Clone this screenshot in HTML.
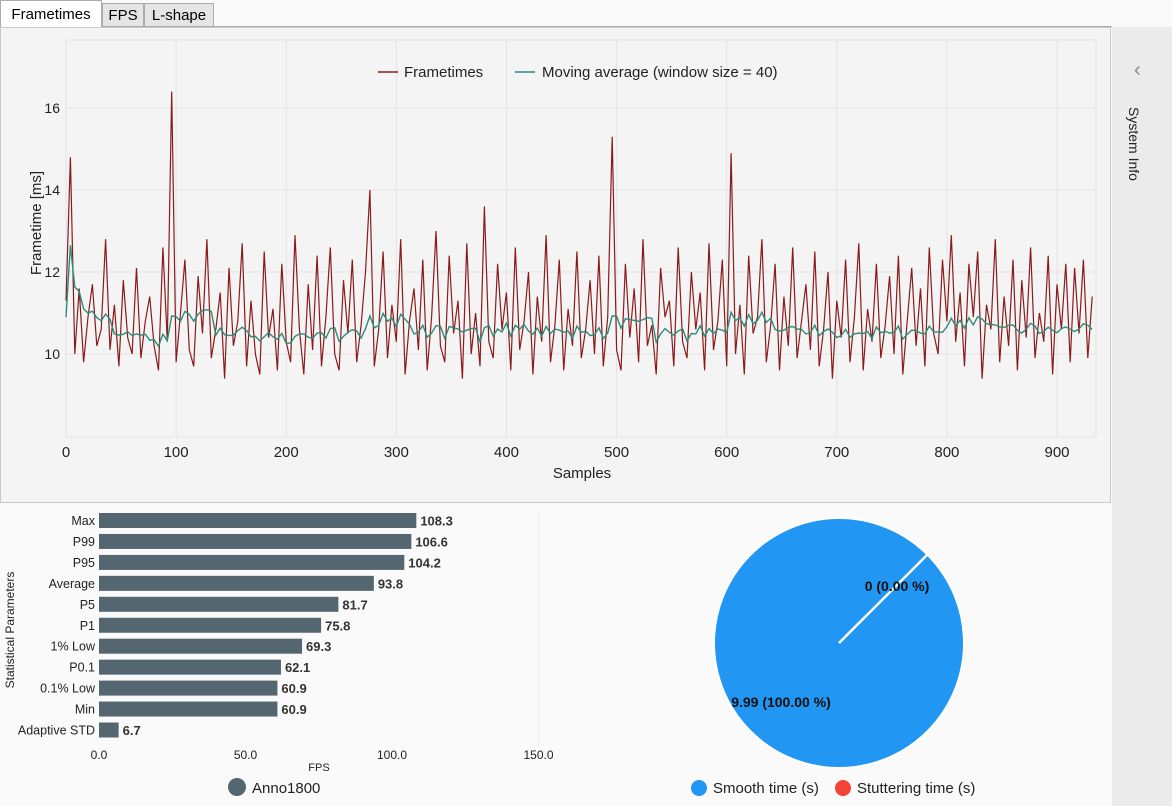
<!DOCTYPE html>
<html><head><meta charset="utf-8"><style>
body{margin:0;width:1172px;height:806px;overflow:hidden;background:#fafafa;font-family:"Liberation Sans",sans-serif;position:relative}
.tab{position:absolute;top:3px;height:23px;border:1px solid #acacac;border-bottom:none;background:#e5e5e5;font-size:15px;line-height:24px;text-align:center;color:#000;box-sizing:border-box}
</style></head><body>
<div style="position:absolute;left:0;top:26px;width:1112px;height:1px;background:#acacac"></div>
<div class="tab" style="left:0;top:0;height:27px;width:102px;background:#fff;line-height:28px">Frametimes</div>
<div class="tab" style="left:102px;width:42px">FPS</div>
<div class="tab" style="left:144px;width:70px">L-shape</div>
<div style="position:absolute;left:1112px;top:27px;width:60px;height:779px;background:#ebebeb">
 <div style="position:absolute;left:22px;top:32px;font-size:20px;color:#888">&#8249;</div>
 <div style="position:absolute;left:30px;top:80px;transform-origin:0 0;transform:rotate(90deg);white-space:nowrap;font-size:14px;color:#222">System Info</div>
</div>
<svg id="ft" width="1112" height="476" style="position:absolute;left:0;top:27px"></svg>
<svg id="bar" width="600" height="300" style="position:absolute;left:0;top:506px"></svg>
<svg id="pie" width="512" height="300" style="position:absolute;left:600px;top:506px"></svg>
<script>
const frametimes=[11.3,14.8,10.0,11.6,9.8,10.9,11.7,10.2,10.6,12.8,
10.1,11.2,9.7,11.8,10.4,10.0,12.1,9.9,10.8,11.4,
10.2,9.6,12.6,10.3,16.4,9.8,11.0,12.3,10.1,9.7,
11.9,10.5,12.8,9.9,10.6,11.5,9.4,12.1,10.2,10.8,
12.7,9.7,11.3,10.0,9.5,12.5,10.4,11.1,9.6,12.2,
10.3,9.8,12.9,10.6,9.5,11.7,10.1,12.4,9.7,10.9,
12.6,10.0,9.6,11.8,10.5,12.3,9.8,10.7,12.0,14.0,
9.7,10.6,12.5,9.9,11.2,10.3,12.8,9.5,10.8,11.6,
10.1,12.3,9.6,10.9,13.0,10.2,9.8,12.4,10.5,11.3,
9.4,12.7,10.0,11.0,9.7,13.6,10.3,9.9,12.2,10.6,
11.5,9.6,12.6,10.1,10.8,12.0,9.5,11.4,10.3,12.9,
9.8,10.7,12.3,9.6,11.1,10.2,12.5,9.9,10.6,11.8,
10.0,12.4,9.7,10.9,15.3,10.1,9.6,12.2,10.4,11.6,
9.8,12.8,10.2,10.7,9.5,12.1,10.9,11.3,9.7,12.6,
10.3,9.9,12.0,10.6,11.5,9.6,12.7,10.1,10.8,12.3,
9.7,14.9,10.0,11.2,9.5,12.4,10.5,10.9,12.8,9.8,
10.7,12.2,9.6,11.4,10.2,12.6,9.9,10.8,11.7,10.1,
12.5,9.7,10.6,12.0,9.4,11.3,10.4,12.3,9.8,10.9,
12.7,9.6,11.1,10.3,12.2,9.9,10.7,11.9,10.0,12.4,
9.5,10.8,12.1,10.2,11.6,9.7,12.6,10.5,10.0,12.3,
10.8,12.9,10.3,11.5,9.7,12.2,10.9,12.5,9.4,11.2,
10.6,12.8,9.8,11.4,10.2,12.3,9.6,11.8,10.4,12.6,
9.9,11.0,10.3,12.4,9.5,11.7,10.6,12.2,9.8,12.1,
10.5,12.3,9.9,11.4];
const sampleStep=4;
const yTicks=[10,12,14,16];
const xTicks=[0,100,200,300,400,500,600,700,800,900];
const statLabels=["Max","P99","P95","Average","P5","P1","1% Low","P0.1","0.1% Low","Min","Adaptive STD"];
const statValues=[108.3,106.6,104.2,93.8,81.7,75.8,69.3,62.1,60.9,60.9,6.7];
const fpsTicks=[0,50,100,150];
const pieLabels=["Smooth time (s)","Stuttering time (s)"];
const pieValues=[9.99,0];

const NS="http://www.w3.org/2000/svg";
function mk(p,tag,attrs,txt){const e=document.createElementNS(NS,tag);for(const k in attrs)e.setAttribute(k,attrs[k]);if(txt!==undefined)e.textContent=txt;p.appendChild(e);return e;}

const ft=document.getElementById('ft');
mk(ft,'rect',{x:0.5,y:0.5,width:1110,height:475,fill:'#f4f4f4',stroke:'#c8c8c8'});
const L=66,R=1096,T=13,B=410;
const X=s=>L+(s-0)*(1057-66)/900;
const Y=v=>(354-27)-(v-10)*41;
mk(ft,'rect',{x:L,y:T,width:R-L,height:B-T,fill:'#f4f4f4',stroke:'#e4e4e4'});
yTicks.forEach(v=>{const g=mk(ft,'line',{x1:L,x2:R,y1:Y(v),y2:Y(v),stroke:'#e4e4e4'});
 
 const t=mk(ft,'text',{x:L-6,y:Y(v)+5,'text-anchor':'end','font-size':14,fill:'#222'},v);
 });
xTicks.forEach(v=>{const g=mk(ft,'line',{x1:X(v),x2:X(v),y1:T,y2:B,stroke:'#e4e4e4'});
 
 const t=mk(ft,'text',{x:X(v),y:B+20,'text-anchor':'middle','font-size':15,fill:'#222'},v);
 });
let t1=mk(ft,'text',{x:582,y:451,'text-anchor':'middle','font-size':15,fill:'#222'},'Samples');

let t2=mk(ft,'text',{x:0,y:0,transform:'translate(41,196) rotate(-90)','text-anchor':'middle','font-size':15,fill:'#222'},'Frametime [ms]');

let pts=frametimes.map((v,i)=>X(i*sampleStep).toFixed(1)+','+Y(v).toFixed(1)).join(' ');
let pl=mk(ft,'polyline',{points:pts,fill:'none',stroke:'#8b1a1a','stroke-width':1.2});

const w=10;const ma=frametimes.map((v,i)=>{const a=frametimes.slice(Math.max(0,i-w+1),i+1);return a.reduce((s,x)=>s+x,0)/a.length-0.4;});
let pm=mk(ft,'polyline',{points:ma.map((v,i)=>X(i*sampleStep).toFixed(1)+','+Y(v).toFixed(1)).join(' '),fill:'none',stroke:'#2e8b7a','stroke-width':1.4});

let lg=mk(ft,'g',{});
mk(lg,'line',{x1:378,x2:398,y1:45,y2:45,stroke:'#8b1a1a','stroke-width':1.5});
mk(lg,'text',{x:404,y:50,'font-size':15,fill:'#222'},'Frametimes');
mk(lg,'line',{x1:515,x2:535,y1:45,y2:45,stroke:'#2e8b7a','stroke-width':1.5});
mk(lg,'text',{x:542,y:50,'font-size':15,fill:'#222'},'Moving average (window size = 40)');

const bar=document.getElementById('bar');
const bx=v=>99+v*2.93;
const rowY=i=>14.5+i*20.95;
mk(bar,'line',{x1:bx(150),x2:bx(150),y1:4,y2:240,stroke:'#ececec'});
statValues.forEach((v,i)=>{
 const r=mk(bar,'rect',{x:bx(0),y:rowY(i)-7.5,width:bx(v)-bx(0),height:15,fill:'#546670'});
 
 const l=mk(bar,'text',{x:95,y:rowY(i)+4.5,'text-anchor':'end','font-size':12.5,fill:'#222'},statLabels[i]);
 
 const vl=mk(bar,'text',{x:bx(v)+4,y:rowY(i)+5,'font-size':13,'font-weight':'bold',fill:'#333'},v.toFixed(1));
 
});
fpsTicks.forEach(v=>{const t=mk(bar,'text',{x:bx(v),y:253,'text-anchor':'middle','font-size':12,fill:'#222'},v.toFixed(1));
 });
let ft2=mk(bar,'text',{x:319,y:265,'text-anchor':'middle','font-size':11,fill:'#222'},'FPS');

let sp=mk(bar,'text',{x:0,y:0,transform:'translate(14,124) rotate(-90)','text-anchor':'middle','font-size':12,fill:'#222'},'Statistical Parameters');

let bl=mk(bar,'g',{});
mk(bl,'circle',{cx:237,cy:281,r:9,fill:'#546670'});
mk(bl,'text',{x:252,y:287,'font-size':15,fill:'#222'},'Anno1800');

const pie=document.getElementById('pie');
const cx=239,cy=137,rad=125;
const tot=pieValues.reduce((a,b)=>a+b,0);
const colors=['#2196f3','#f44336'];
let ang=-Math.PI/4;
pieValues.forEach((v,i)=>{
 const frac=v/tot;
 let el;
 if(frac>=0.9999){el=mk(pie,'circle',{cx:cx,cy:cy,r:rad,fill:colors[i],stroke:'#fff','stroke-width':2});}
 else{const a2=ang+frac*2*Math.PI;const large=frac>0.5?1:0;
  el=mk(pie,'path',{d:`M${cx},${cy} L${cx+rad*Math.cos(ang)},${cy+rad*Math.sin(ang)} A${rad},${rad} 0 ${large} 1 ${cx+rad*Math.cos(a2)},${cy+rad*Math.sin(a2)} Z`,fill:colors[i],stroke:'#fff','stroke-width':2});ang=a2;}
 
});
let sl=mk(pie,'line',{x1:cx,y1:cy,x2:cx+rad*Math.cos(-Math.PI/4),y2:cy+rad*Math.sin(-Math.PI/4),stroke:'#fff','stroke-width':2.5});

let p1=mk(pie,'text',{x:297,y:85,'text-anchor':'middle','font-size':14,'font-weight':'bold',fill:'#111'},pieValues[1].toFixed(0)+' ('+(pieValues[1]/tot*100).toFixed(2)+' %)');

let p2=mk(pie,'text',{x:181,y:201,'text-anchor':'middle','font-size':14,'font-weight':'bold',fill:'#111'},pieValues[0].toFixed(2)+' ('+(pieValues[0]/tot*100).toFixed(2)+' %)');

let pl1=mk(pie,'g',{});
mk(pl1,'circle',{cx:99,cy:282,r:8,fill:colors[0]});
mk(pl1,'text',{x:113,y:287,'font-size':15,fill:'#222'},pieLabels[0]);
let pl2=mk(pie,'g',{});
mk(pl2,'circle',{cx:243,cy:282,r:8,fill:colors[1]});
mk(pl2,'text',{x:257,y:287,'font-size':15,fill:'#222'},pieLabels[1]);
</script>
</body></html>
